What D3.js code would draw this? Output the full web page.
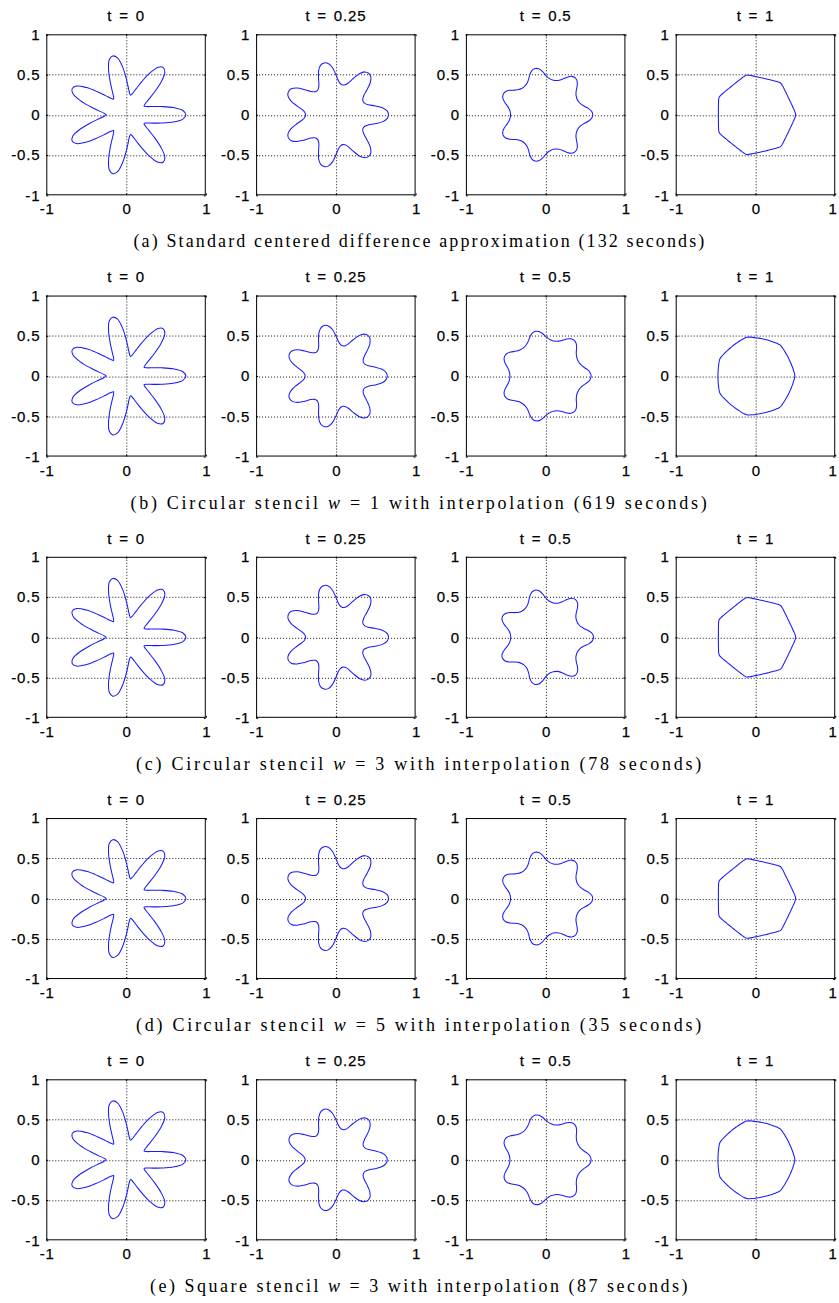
<!DOCTYPE html>
<html><head><meta charset="utf-8">
<script src="https://cdn.jsdelivr.net/npm/d3@7"></script>
<style>body{margin:0;background:#fff}</style>
</head><body>
<svg id="fig" width="839" height="1303" xmlns="http://www.w3.org/2000/svg"></svg>
<script>
// ---------- data ----------
const timeLabels = ["t = 0", "t = 0.25", "t = 0.5", "t = 1"];
const xTickValues = [-1, 0, 1];
const yTickValues = [-1, -0.5, 0, 0.5, 1];
const gridXValues = [0];
const gridYValues = [-0.5, 0, 0.5];
const petalCount = 7;
// radius of the front, read along one petal period (tip -> valley -> next tip), 12 samples
const radiiRowA = [
  [0.75, 0.715, 0.60, 0.46, 0.35, 0.28, 0.25, 0.28, 0.35, 0.46, 0.60, 0.715],
  [0.66, 0.645, 0.59, 0.50, 0.425, 0.39, 0.38, 0.39, 0.425, 0.50, 0.59, 0.645],
  [0.59, 0.578, 0.54, 0.492, 0.46, 0.445, 0.44, 0.445, 0.46, 0.492, 0.54, 0.578],
  [0.505, 0.496, 0.485, 0.476, 0.47, 0.466, 0.465, 0.466, 0.47, 0.476, 0.485, 0.496]
];
const radiiRowB = [
  [0.75, 0.715, 0.60, 0.46, 0.35, 0.28, 0.25, 0.28, 0.35, 0.46, 0.60, 0.715],
  [0.645, 0.63, 0.58, 0.50, 0.43, 0.395, 0.385, 0.395, 0.43, 0.50, 0.58, 0.63],
  [0.57, 0.56, 0.53, 0.492, 0.466, 0.452, 0.448, 0.452, 0.466, 0.492, 0.53, 0.56],
  [0.494, 0.489, 0.482, 0.477, 0.473, 0.471, 0.47, 0.471, 0.473, 0.477, 0.482, 0.489]
];
const radiiRowC = [
  [0.75, 0.715, 0.60, 0.46, 0.35, 0.28, 0.25, 0.28, 0.35, 0.46, 0.60, 0.715],
  [0.66, 0.645, 0.59, 0.50, 0.425, 0.39, 0.38, 0.39, 0.425, 0.50, 0.59, 0.645],
  [0.60, 0.587, 0.545, 0.492, 0.458, 0.443, 0.438, 0.443, 0.458, 0.492, 0.545, 0.587],
  [0.505, 0.496, 0.485, 0.476, 0.47, 0.466, 0.465, 0.466, 0.47, 0.476, 0.485, 0.496]
];
const radiiRowD = [
  [0.75, 0.715, 0.60, 0.46, 0.35, 0.28, 0.25, 0.28, 0.35, 0.46, 0.60, 0.715],
  [0.66, 0.645, 0.59, 0.50, 0.425, 0.39, 0.38, 0.39, 0.425, 0.50, 0.59, 0.645],
  [0.59, 0.578, 0.54, 0.492, 0.46, 0.445, 0.44, 0.445, 0.46, 0.492, 0.54, 0.578],
  [0.505, 0.496, 0.485, 0.476, 0.47, 0.466, 0.465, 0.466, 0.47, 0.476, 0.485, 0.496]
];
const radiiRowE = [
  [0.75, 0.715, 0.60, 0.46, 0.35, 0.28, 0.25, 0.28, 0.35, 0.46, 0.60, 0.715],
  [0.645, 0.63, 0.58, 0.50, 0.43, 0.395, 0.385, 0.395, 0.43, 0.50, 0.58, 0.63],
  [0.57, 0.56, 0.53, 0.492, 0.466, 0.452, 0.448, 0.452, 0.466, 0.492, 0.53, 0.56],
  [0.494, 0.489, 0.482, 0.477, 0.473, 0.471, 0.47, 0.471, 0.473, 0.477, 0.482, 0.489]
];
const rowRadii = [radiiRowA, radiiRowB, radiiRowC, radiiRowD, radiiRowE];
const captionParts = [
  [["(a) Standard centered difference approximation (132 seconds)", false]],
  [["(b) Circular stencil ", false], ["w", true], [" = 1 with interpolation (619 seconds)", false]],
  [["(c) Circular stencil ", false], ["w", true], [" = 3 with interpolation (78 seconds)", false]],
  [["(d) Circular stencil ", false], ["w", true], [" = 5 with interpolation (35 seconds)", false]],
  [["(e) Square stencil ", false], ["w", true], [" = 3 with interpolation (87 seconds)", false]]
];
const captionWidths = [573, 579, 568, 568, 540];

// ---------- layout ----------
const colX0 = 46.3, colStep = 209.8;
const rowY0 = 34.3, rowStep = 261.25;
const W = 159.5, H = 161;
const sansFont = "'Liberation Sans', Arial, Helvetica, sans-serif";
const serifFont = "'Liberation Serif', 'Times New Roman', serif";

const svg = d3.select("#fig");
svg.append("rect").attr("width", 839).attr("height", 1303).attr("fill", "#fff");

const x = d3.scaleLinear().domain([-1, 1]).range([0, W]);
const y = d3.scaleLinear().domain([-1, 1]).range([H, 0]);
const line = d3.line()
  .x(d => x(d[0])).y(d => y(d[1]))
  .curve(d3.curveCatmullRomClosed.alpha(0.5));

function frontPoints(radii) {
  const pts = [];
  const n = radii.length;
  for (let p = 0; p < petalCount; p++) {
    radii.forEach((r, k) => {
      const th = 2 * Math.PI / petalCount * (p + k / n);
      pts.push([r * Math.cos(th), r * Math.sin(th)]);
    });
  }
  return pts;
}

const fmt = d => String(d);

rowRadii.forEach((row, i) => {
  row.forEach((radii, j) => {
    const g = svg.append("g")
      .attr("transform", `translate(${colX0 + colStep * j},${rowY0 + rowStep * i})`);

    // grid
    g.selectAll(".gx").data(gridXValues).join("line")
      .attr("x1", d => Math.round(x(d)) + 0.5).attr("x2", d => Math.round(x(d)) + 0.5)
      .attr("y1", 0).attr("y2", H)
      .attr("stroke", "#111").attr("stroke-width", 1).attr("stroke-dasharray", "1,2");
    g.selectAll(".gy").data(gridYValues).join("line")
      .attr("y1", d => Math.round(y(d)) + 0.5).attr("y2", d => Math.round(y(d)) + 0.5)
      .attr("x1", 0).attr("x2", W)
      .attr("stroke", "#111").attr("stroke-width", 1).attr("stroke-dasharray", "1,2");

    // axes
    const axL = g.append("g").call(d3.axisLeft(y).tickValues(yTickValues).tickFormat(fmt).tickSize(-2).tickPadding(6));
    const axB = g.append("g").attr("transform", `translate(0,${H})`)
      .call(d3.axisBottom(x).tickValues(xTickValues).tickFormat(fmt).tickSize(-2).tickPadding(8.5));
    const axT = g.append("g").call(d3.axisTop(x).tickValues(xTickValues).tickFormat("").tickSize(-2));
    const axR = g.append("g").attr("transform", `translate(${W},0)`)
      .call(d3.axisRight(y).tickValues(yTickValues).tickFormat("").tickSize(-2));
    [axL, axB, axT, axR].forEach(a => {
      a.select(".domain").remove();
      a.selectAll(".tick line").attr("stroke", "#000");
      a.selectAll("text").attr("font-family", sansFont).attr("font-size", 15)
        .attr("fill", "#000").attr("letter-spacing", "0.8px")
        .attr("stroke", "#000").attr("stroke-width", 0.25);
    });
    axB.selectAll("text").attr("dx", "0.4px");
    if (j === 3) {
      // keep the last "1" label inside the page
      axB.selectAll(".tick").filter(d => d === 1).select("text").attr("dx", "-2.6px");
    }

    // box
    g.append("rect").attr("x", 0.5).attr("y", 0.5).attr("width", W - 1).attr("height", H - 1)
      .attr("fill", "none").attr("stroke", "#000").attr("stroke-width", 1);

    // curve
    g.append("path").datum(frontPoints(radii))
      .attr("d", line).attr("fill", "none")
      .attr("stroke", "#1a1aff").attr("stroke-width", 1.05);

    // title
    g.append("text").attr("x", W / 2).attr("y", -13.3)
      .attr("text-anchor", "middle").attr("font-family", sansFont).attr("font-size", 15)
      .attr("letter-spacing", "0.8px").attr("word-spacing", "2px")
      .attr("stroke", "#000").attr("stroke-width", 0.25)
      .text(timeLabels[j]);
  });

  // caption
  const cap = svg.append("text")
    .attr("x", 420).attr("y", rowY0 + rowStep * i + 213)
    .attr("text-anchor", "middle").attr("font-family", serifFont).attr("font-size", 18)
    .attr("fill", "#000");
  captionParts[i].forEach(([s, it]) => {
    const t = cap.append("tspan").text(s);
    if (it) t.attr("font-style", "italic");
  });
  const len = cap.node().getComputedTextLength();
  const nChars = captionParts[i].reduce((a, p) => a + p[0].length, 0);
  cap.attr("letter-spacing", ((captionWidths[i] - len) / nChars).toFixed(3) + "px");
});
</script>
</body></html>
